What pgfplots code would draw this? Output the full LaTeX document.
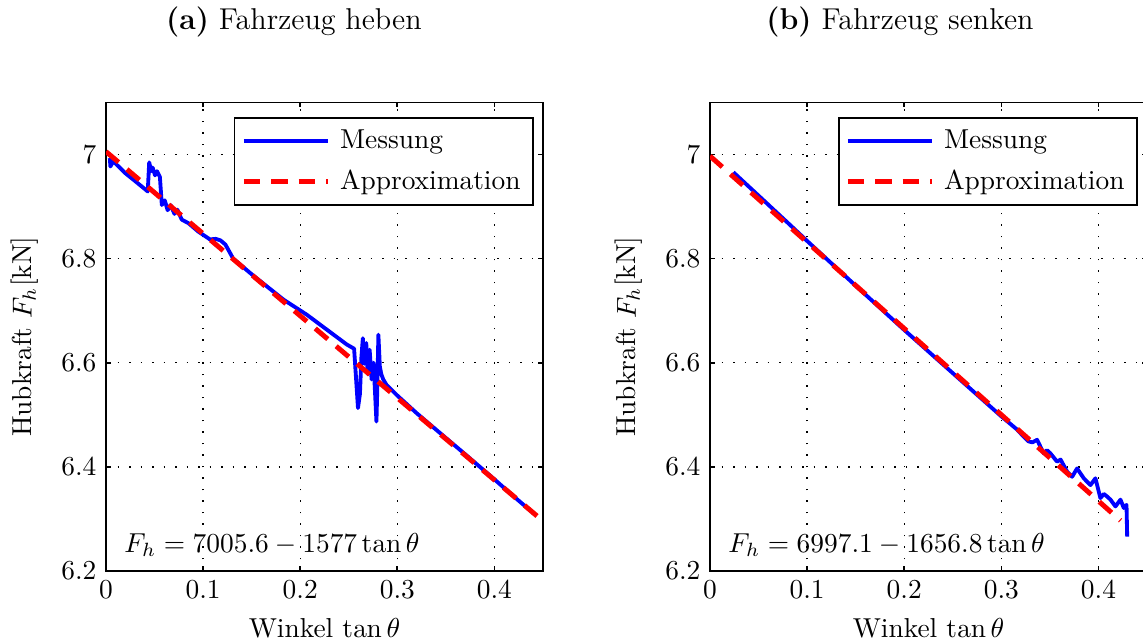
\documentclass[border=0pt]{standalone}
\usepackage{pgfplots}
\pgfplotsset{compat=1.18}
\begin{document}
\begin{tikzpicture}
\pgfplotsset{
  fh/.style={
    scale only axis, width=159.5pt, height=171pt,
    xmin=0, xmax=0.45, ymin=6.2, ymax=7.1,
    xtick={0,0.1,0.2,0.3,0.4}, ytick={6.2,6.4,6.6,6.8,7},
    xticklabel style={/pgf/number format/fixed},
    yticklabel style={/pgf/number format/fixed, /pgf/number format/precision=1},
    tick align=inside, major tick length=1.8pt,
    tick style={black, line width=0.6pt},
    axis line style={line width=0.7pt},
    grid=major, grid style={black, line width=0.5pt, dash pattern=on 0.6pt off 3.6pt},
    xlabel={Winkel $\tan\theta$},
    ylabel={Hubkraft $F_h$[kN]},
    every axis x label/.style={at={(axis description cs:0.5,-0.1216)}, anchor=center},
    every axis y label/.style={at={(axis description cs:-0.1856,0.5)}, rotate=90, anchor=center},
    legend style={at={(0.979,0.968)}, anchor=north east, draw=black, line width=0.7pt,
      inner xsep=2.5pt, inner ysep=2pt, row sep=2.5pt,
      /tikz/every odd column/.append style={column sep=1.5pt}},
    legend cell align=left,
    legend image code/.code={\draw[##1] (0pt,0pt) -- (30.7pt,0pt);},
  },
  mess/.style={blue, line width=1.4pt, line join=round},
  appr/.style={red, line width=1.8pt, dash pattern=on 6pt off 4pt},
}
% (a) Fahrzeug heben
\begin{axis}[fh, at={(0pt,0pt)}, anchor=south west]
\addplot[mess] coordinates {
(0.004,6.993)(0.0045,6.977)(0.0075,6.987)(0.02,6.964)(0.03,6.949)(0.0385,6.936)
(0.043,6.929)(0.0445,6.985)(0.0465,6.968)(0.048,6.975)(0.0505,6.960)(0.0525,6.968)
(0.0555,6.957)(0.0575,6.903)(0.0605,6.912)(0.0635,6.893)(0.0665,6.903)(0.0705,6.886)
(0.0735,6.894)(0.078,6.875)(0.085,6.868)(0.095,6.852)(0.107,6.837)(0.113,6.838)
(0.118,6.835)(0.123,6.827)(0.131,6.800)(0.15,6.770)(0.183,6.721)(0.207,6.692)
(0.23,6.660)(0.248,6.635)(0.2555,6.627)(0.2575,6.570)(0.2595,6.513)(0.2615,6.540)
(0.263,6.610)(0.2645,6.647)(0.266,6.598)(0.268,6.638)(0.2695,6.578)(0.2715,6.625)
(0.2735,6.568)(0.2755,6.600)(0.277,6.545)(0.2785,6.487)(0.2795,6.560)(0.2805,6.654)
(0.282,6.593)(0.2835,6.578)(0.2855,6.568)(0.289,6.557)(0.293,6.550)(0.30,6.537)
(0.32,6.503)(0.344,6.465)(0.37,6.424)(0.40,6.376)(0.42,6.343)(0.442,6.308)};
\addplot[appr] coordinates {(0,7.0056)(0.444,6.3054)};
\legend{Messung, Approximation}
\node[anchor=west] at (rel axis cs:0.02,0.055) {$F_h = 7005.6 - 1577\tan\theta$};
\end{axis}
% (b) Fahrzeug senken
\begin{axis}[fh, at={(220.46pt,0pt)}, anchor=south west]
\addplot[mess] coordinates {
(0.024,6.966)(0.05,6.921)(0.08,6.869)(0.1,6.834)(0.15,6.748)(0.2,6.663)(0.25,6.580)
(0.3,6.497)(0.316,6.472)(0.323,6.458)(0.328,6.449)(0.332,6.447)(0.3368,6.452)
(0.3436,6.426)(0.347,6.432)(0.3505,6.426)(0.3574,6.410)(0.361,6.414)(0.3677,6.391)
(0.3729,6.381)(0.378,6.397)(0.3849,6.378)(0.3918,6.365)(0.3969,6.378)(0.402,6.340)
(0.4055,6.348)(0.4089,6.343)(0.4124,6.337)(0.4175,6.324)(0.4227,6.337)(0.4261,6.321)
(0.4289,6.327)(0.4296,6.266)};
\addplot[appr] coordinates {(0,6.9971)(0.4227,6.2968)};
\legend{Messung, Approximation}
\node[anchor=west] at (rel axis cs:0.02,0.055) {$F_h = 6997.1 - 1656.8\tan\theta$};
\end{axis}
\node[font=\fontsize{11}{13}\selectfont] at (68.6pt,200.4pt) {\textbf{(a)} Fahrzeug heben};
\node[font=\fontsize{11}{13}\selectfont] at (289.8pt,200.4pt) {\textbf{(b)} Fahrzeug senken};
\pgfresetboundingbox
\path[use as bounding box] (-38.69pt,-26.28pt) rectangle (378.5pt,208.4pt);
\end{tikzpicture}
\end{document}
